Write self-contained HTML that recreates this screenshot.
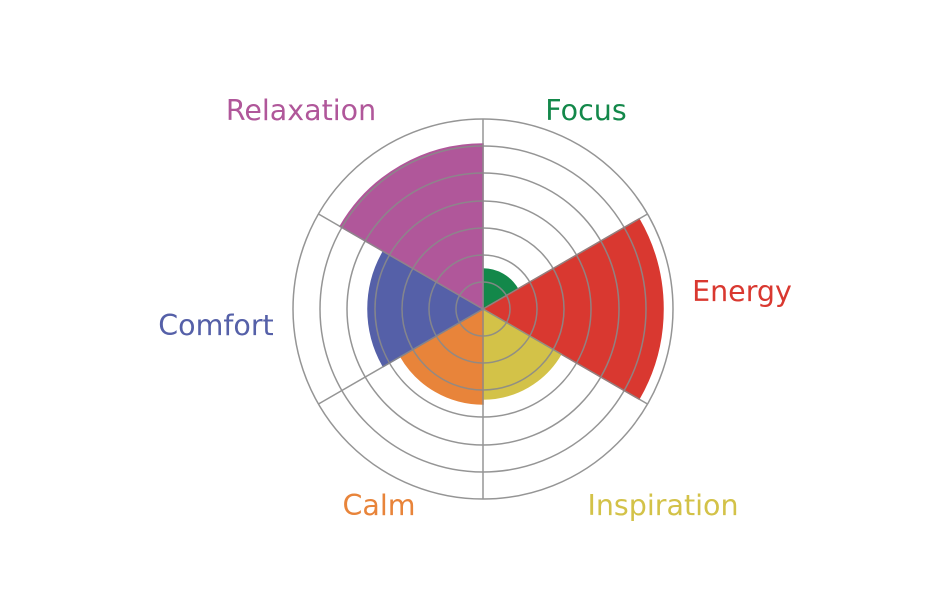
<!DOCTYPE html>
<html><head><meta charset="utf-8"><style>
html,body{margin:0;padding:0;background:#fff;}
svg{display:block;}
text{font-family:"DejaVu Sans","Liberation Sans",sans-serif;font-size:28.5px;text-anchor:middle;dominant-baseline:middle;}
</style></head><body>
<svg width="936" height="602" viewBox="0 0 936 602">
<g stroke-width="1.5">
<path d="M483,309 L483,269 A40,40 0 0 1 517.6,289 Z" fill="#13884a" stroke="#13884a"/>
<path d="M483,309 L638.9,219 A180,180 0 0 1 638.9,399 Z" fill="#d93830" stroke="#d93830"/>
<path d="M483,309 L560.9,354 A90,90 0 0 1 483,399 Z" fill="#d3c248" stroke="#d3c248"/>
<path d="M483,309 L483,404 A95,95 0 0 1 400.7,356.5 Z" fill="#e8843a" stroke="#e8843a"/>
<path d="M483,309 L383.4,366.5 A115,115 0 0 1 383.4,251.5 Z" fill="#5560a8" stroke="#5560a8"/>
<path d="M483,309 L340.1,226.5 A165,165 0 0 1 483,144 Z" fill="#b0579a" stroke="#b0579a"/>
</g>
<g fill="none" stroke="#8a8a8a" stroke-width="1.5" opacity="0.9">
<circle cx="483" cy="309" r="27"/>
<circle cx="483" cy="309" r="54"/>
<circle cx="483" cy="309" r="81"/>
<circle cx="483" cy="309" r="108"/>
<circle cx="483" cy="309" r="136"/>
<circle cx="483" cy="309" r="163"/>
<circle cx="483" cy="309" r="190"/>
<line x1="483" y1="309" x2="483" y2="119"/>
<line x1="483" y1="309" x2="483" y2="499"/>
<line x1="483" y1="309" x2="647.5" y2="214"/>
<line x1="483" y1="309" x2="647.5" y2="404"/>
<line x1="483" y1="309" x2="318.5" y2="404"/>
<line x1="483" y1="309" x2="318.5" y2="214"/>
</g>
<text x="301" y="112" fill="#b0579a">Relaxation</text>
<text x="586" y="112" fill="#13884a">Focus</text>
<text x="742" y="293" fill="#d93830">Energy</text>
<text x="216" y="327" fill="#5560a8">Comfort</text>
<text x="379" y="507" fill="#e8843a">Calm</text>
<text x="663" y="507" fill="#d3c248">Inspiration</text>
</svg>
</body></html>
